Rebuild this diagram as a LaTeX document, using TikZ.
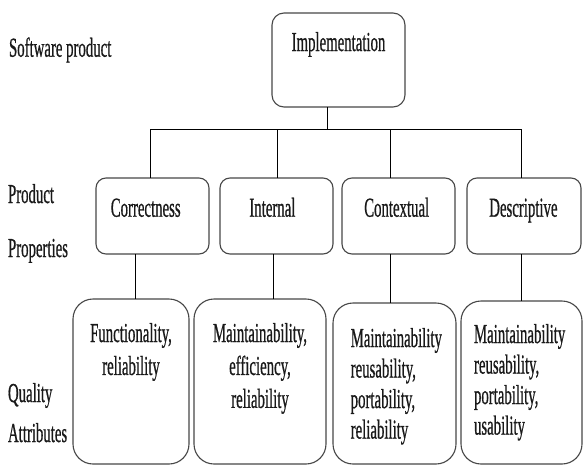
\documentclass[tikz,border=0pt]{standalone}
\usepackage{fontspec}
\setmainfont{Liberation Serif}[FakeBold=0.9,BoldFont=*]

% tall, narrow lettering: text is stretched vertically
\newcommand\stretchtext[3][16.5pt]{%
  \scalebox{1}[1.85]{\fontsize{14.8}{#1}\selectfont\bfseries
    \begin{tabular}[t]{@{}#2@{}}#3\end{tabular}}}

\begin{document}
\begin{tikzpicture}[x=1pt, y=-1pt,
  box/.style={draw=black!72, line width=1.1pt, fill=white, inner sep=0pt, outer sep=0pt},
  topbox/.style={box, rounded corners=10pt, minimum height=76pt},
  attrbox/.style={box, rounded corners=20pt},
  lbl/.style={inner sep=0pt, outer sep=0pt, anchor=base, text=black!90},
  side/.style={lbl, anchor=base west},
  wire/.style={draw=black, line width=1pt}]

\fill[white] (0,0) rectangle (584,466);
\useasboundingbox (0,0) rectangle (584,466);

% level labels on the left
\node[side] (lsw)   at (9,56.7)  {\stretchtext{l}{Software product}};
\node[side] (lpr)   at (8,203)   {\stretchtext{l}{Product}};
\node[side] (lprop) at (8,257)   {\stretchtext{l}{Properties}};
\node[side] (lq)    at (8,402)   {\stretchtext{l}{Quality}};
\node[side] (lattr) at (8,442)   {\stretchtext{l}{Attributes}};

% root
\node[box, rounded corners=12pt, minimum width=133pt, minimum height=94pt] (impl) at (338.5,60) {};
\node[lbl] (implt) at (338.5,51) {\stretchtext{c}{Implementation}};

% product properties
\node[topbox, minimum width=113pt] (corr) at (152.5,216) {};
\node[topbox, minimum width=113pt] (intl) at (276.5,216) {};
\node[topbox, minimum width=113pt] (ctx)  at (398.5,216) {};
\node[topbox, minimum width=114pt] (desc) at (524,216)   {};
\node[lbl] (corrt) at (145.7,216.7) {\stretchtext{c}{Correctness}};
\node[lbl] (intlt) at (272.4,216.7) {\stretchtext{c}{Internal}};
\node[lbl] (ctxt)  at (396.7,216.7) {\stretchtext{c}{Contextual}};
\node[lbl] (desct) at (523.4,216.7) {\stretchtext{c}{Descriptive}};

% quality attributes
\node[attrbox, minimum width=116pt, minimum height=165pt] (qa1) at (131,381.5)   {};
\node[attrbox, minimum width=132pt, minimum height=165pt] (qa2) at (260,381.5)   {};
\node[attrbox, minimum width=123pt, minimum height=161pt] (qa3) at (394.5,383.5) {};
\node[attrbox, minimum width=121pt, minimum height=163pt] (qa4) at (521.5,382.5) {};
\node[lbl] (qa1t) at (131,342) {\stretchtext[17.8pt]{c}{Functionality,\\ reliability}};
\node[lbl] (qa2t) at (260,342) {\stretchtext[17.8pt]{c}{Maintainability,\\ efficiency,\\ reliability}};
\node[lbl, anchor=base west] (qa3t) at (350.7,347) {\stretchtext{l}{Maintainability\\ reusability,\\ portability,\\ reliability}};
\node[lbl, anchor=base west] (qa4t) at (474,343)   {\stretchtext{l}{Maintainability\\ reusability,\\ portability,\\ usability}};

% tree connectors
\coordinate (j0) at (327,129);
\coordinate (jc) at (150,129);
\coordinate (ji) at (277,129);
\coordinate (jx) at (390,129);
\coordinate (jd) at (521,129);

\draw[wire] (impl.south -| j0) -- (j0);
\draw[wire] (jc) -- (jd);
\draw[wire] (jc) -- (jc |- corr.north);
\draw[wire] (ji) -- (ji |- intl.north);
\draw[wire] (jx) -- (jx |- ctx.north);
\draw[wire] (jd) -- (jd |- desc.north);

\draw[wire] ([xshift=-17.5pt]corr.south) -- ([xshift=-17.5pt]corr.south |- qa1.north);
\draw[wire] ([xshift=-3.5pt]intl.south)  -- ([xshift=-3.5pt]intl.south |- qa2.north);
\draw[wire] ([xshift=-8.5pt]ctx.south)   -- ([xshift=-8.5pt]ctx.south |- qa3.north);
\draw[wire] ([xshift=-3pt]desc.south)    -- ([xshift=-3pt]desc.south |- qa4.north);
\end{tikzpicture}
\end{document}
